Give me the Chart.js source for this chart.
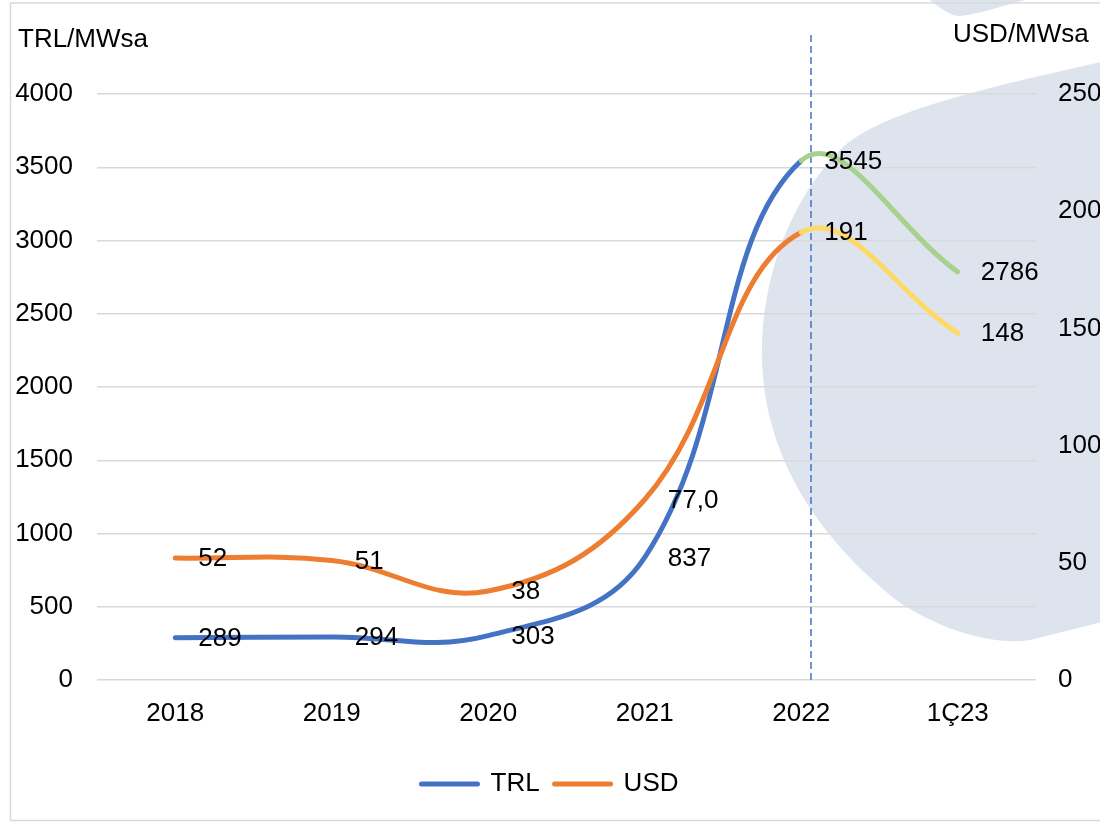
<!DOCTYPE html>
<html>
<head>
<meta charset="utf-8">
<script src="https://cdn.jsdelivr.net/npm/chart.js@4.4.1/dist/chart.umd.min.js"></script>
<style>
  html, body { margin: 0; padding: 0; background: #fff; }
  #wrap { width: 1100px; height: 823px; }
</style>
</head>
<body>
<div id="wrap"><canvas id="chart" width="1100" height="823"></canvas></div>
<script>
const categories = ["2018", "2019", "2020", "2021", "2022", "1Ç23"];
const trlValues = [289, 294, 303, 837, 3545, 2786];
const usdValues = [52, 51, 38, 77.0, 191, 148];
const trlLabels = ["289", "294", "303", "837", "3545", "2786"];
const usdLabels = ["52", "51", "38", "77,0", "191", "148"];
const leftTicks = [0, 500, 1000, 1500, 2000, 2500, 3000, 3500, 4000];
const rightTicks = [0, 50, 100, 150, 200, 250];

const FONT = "'Liberation Sans', Arial, sans-serif";
const BLUE = "#4472C4", ORANGE = "#ED7D31", GREEN = "#A9D18E", YELLOW = "#FFD966";

// background, frame and the blob shapes
const backdrop = {
  id: "backdrop",
  beforeDraw(chart) {
    const ctx = chart.ctx;
    ctx.save();
    ctx.fillStyle = "#fff";
    ctx.fillRect(0, 0, chart.width, chart.height);
    ctx.fillStyle = "#DEE4EE";
    ctx.beginPath();
    ctx.moveTo(1110, 60);
    ctx.bezierCurveTo(1000, 85, 880, 110, 840, 150);
    ctx.bezierCurveTo(790, 200, 760, 280, 762, 360);
    ctx.bezierCurveTo(765, 460, 820, 540, 900, 603);
    ctx.bezierCurveTo(950, 635, 1000, 645, 1030, 640);
    ctx.lineTo(1110, 620);
    ctx.closePath();
    ctx.fill();
    ctx.beginPath();
    ctx.moveTo(930, 0);
    ctx.bezierCurveTo(940, 8, 950, 16, 960, 16);
    ctx.bezierCurveTo(980, 14, 1005, 5, 1025, 0);
    ctx.closePath();
    ctx.fill();
    ctx.strokeStyle = "#d9d9d9";
    ctx.lineWidth = 1.5;
    ctx.beginPath();
    ctx.moveTo(1110, 3);
    ctx.lineTo(10.5, 3);
    ctx.lineTo(10.5, 820.5);
    ctx.lineTo(1110, 820.5);
    ctx.stroke();
    ctx.fillStyle = "#000";
    ctx.font = "26px " + FONT;
    ctx.textBaseline = "middle";
    ctx.textAlign = "left";
    ctx.fillText("TRL/MWsa", 18, 40);
    ctx.fillText("USD/MWsa", 953, 35);
    ctx.restore();
  },
  beforeDatasetsDraw(chart) {
    const ctx = chart.ctx;
    const x = Math.round(chart.scales.x.getPixelForValue(4)) + 10;
    ctx.save();
    ctx.strokeStyle = BLUE;
    ctx.lineWidth = 1.5;
    ctx.setLineDash([7, 4]);
    ctx.beginPath();
    ctx.moveTo(x, 35);
    ctx.lineTo(x, chart.chartArea.bottom);
    ctx.stroke();
    ctx.restore();
  },
  afterDatasetsDraw(chart) {
    const ctx = chart.ctx;
    ctx.save();
    ctx.fillStyle = "#000";
    ctx.font = "26px " + FONT;
    ctx.textAlign = "left";
    ctx.textBaseline = "middle";
    chart.data.datasets.forEach((ds, i) => {
      const meta = chart.getDatasetMeta(i);
      meta.data.forEach((pt, j) => {
        ctx.fillText(ds.valueLabels[j], pt.x + 23, pt.y + 1);
      });
    });
    ctx.restore();
  }
};

new Chart(document.getElementById("chart"), {
  type: "line",
  data: {
    labels: categories,
    datasets: [
      {
        label: "TRL",
        data: trlValues,
        valueLabels: trlLabels,
        yAxisID: "y",
        borderColor: BLUE,
        borderWidth: 5,
        borderCapStyle: "round",
        pointRadius: 0,
        tension: 0.4,
        order: 1,
        segment: { borderColor: c => c.p0DataIndex === 4 ? GREEN : undefined }
      },
      {
        label: "USD",
        data: usdValues,
        valueLabels: usdLabels,
        yAxisID: "y1",
        borderColor: ORANGE,
        borderWidth: 5,
        borderCapStyle: "round",
        pointRadius: 0,
        tension: 0.4,
        order: 0,
        segment: { borderColor: c => c.p0DataIndex === 4 ? YELLOW : undefined }
      }
    ]
  },
  options: {
    responsive: false,
    animation: false,
    layout: { padding: { top: 94, bottom: 16, left: 0, right: 0 } },
    plugins: {
      tooltip: { enabled: false },
      legend: {
        position: "bottom",
        labels: {
          font: { family: FONT, size: 26 },
          color: "#000",
          padding: 15,
          usePointStyle: true,
          pointStyleWidth: 56,
          generateLabels: () => [
            { text: "TRL", strokeStyle: BLUE, fillStyle: BLUE, lineWidth: 5, lineCap: "round", pointStyle: "line", datasetIndex: 0 },
            { text: "USD", strokeStyle: ORANGE, fillStyle: ORANGE, lineWidth: 5, lineCap: "round", pointStyle: "line", datasetIndex: 1 }
          ]
        }
      }
    },
    scales: {
      x: {
        offset: true,
        grid: { display: false, offset: true },
        border: { display: false },
        ticks: {
          color: "#000",
          font: { family: FONT, size: 26 },
          padding: 10,
          maxRotation: 0
        },
        afterFit: s => { s.height = 76; }
      },
      y: {
        position: "left",
        min: 0,
        max: 4000,
        afterBuildTicks: s => { s.ticks = leftTicks.map(v => ({ value: v })); },
        grid: { color: "#d9d9d9", lineWidth: 1.5, drawTicks: false },
        border: { display: false },
        ticks: { color: "#000", font: { family: FONT, size: 26 }, padding: 24, callback: v => String(v) },
        afterFit: s => { s.width = 97; }
      },
      y1: {
        position: "right",
        min: 0,
        max: 250,
        afterBuildTicks: s => { s.ticks = rightTicks.map(v => ({ value: v })); },
        grid: { display: false, drawTicks: false },
        border: { display: false },
        ticks: { color: "#000", font: { family: FONT, size: 26 }, padding: 22, callback: v => String(v) },
        afterFit: s => { s.width = 64; }
      }
    }
  },
  plugins: [backdrop]
});
</script>
</body>
</html>
